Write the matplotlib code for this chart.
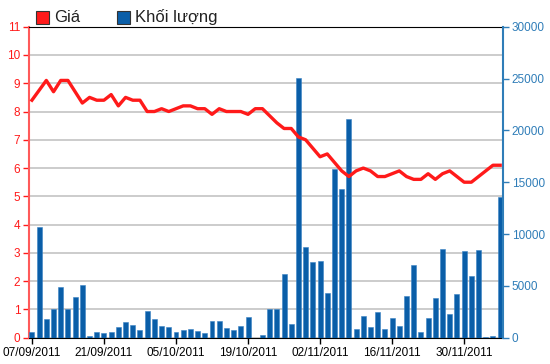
import matplotlib
matplotlib.use('Agg')
import matplotlib.pyplot as plt
from matplotlib.patches import Rectangle

plt.rcParams['font.family'] = ['Liberation Sans', 'DejaVu Sans']

# gia (nghin dong) va khoi luong theo tung phien
price = [8.4, 8.75, 9.1, 8.7, 9.1, 9.1, 8.7, 8.3, 8.5, 8.4,
         8.4, 8.6, 8.2, 8.5, 8.4, 8.4, 8.0, 8.0, 8.1, 8.0,
         8.1, 8.2, 8.2, 8.1, 8.1, 7.9, 8.1, 8.0, 8.0, 8.0,
         7.9, 8.1, 8.1, 7.85, 7.6, 7.4, 7.4, 7.1, 7.0, 6.7,
         6.4, 6.5, 6.2, 5.9, 5.7, 5.9, 6.0, 5.9, 5.7, 5.7,
         5.8, 5.9, 5.7, 5.6, 5.6, 5.8, 5.6, 5.8, 5.9, 5.7,
         5.5, 5.5, 5.7, 5.9, 6.1, 6.1]
volume = [550, 10640, 1770, 2730, 4850, 2780, 3900, 5100, 140, 550,
          410, 550, 1010, 1500, 1230, 760, 2540, 1830, 1150, 1010,
          550, 760, 870, 630, 410, 1640, 1640, 900, 760, 1150,
          1960, 0, 220, 2740, 2720, 6100, 1340, 25100, 8720, 7280,
          7380, 4300, 16230, 14330, 21070, 800, 2120, 1060, 2440, 800,
          1860, 1150, 4040, 7050, 545, 1890, 3820, 8600, 2245, 4170,
          8370, 5960, 8500, 100, 190, 13530]
tick_pos = [0, 10, 20, 30, 40, 50, 60]
tick_labels = ['07/09/2011', '21/09/2011', '05/10/2011', '19/10/2011',
               '02/11/2011', '16/11/2011', '30/11/2011']

red = '#ff1a1a'
blue = '#0a5ea8'
blue_axis = '#2f7db8'

x = list(range(len(price)))

fig = plt.figure(figsize=(5.5, 3.64), dpi=100)
ax = fig.add_axes([0.052, 0.0723, 0.863, 0.8543])
ax.set_xlim(-0.46, 65.43)
ax.set_ylim(0, 11)
ax.set_yticks(range(0, 12))
ax.grid(axis='y', color='#c8c8c8', linewidth=1.3)
ax.set_axisbelow(True)
ax.tick_params(axis='y', colors=red, labelsize=8.5, length=4, width=1, pad=2)
ax.tick_params(axis='x', colors='black', labelsize=8.5, length=4, width=1, pad=3)
ax.set_xticks(tick_pos)
ax.set_xticklabels(tick_labels)
ax.spines['left'].set_color('#ff5a5a')
ax.spines['left'].set_linewidth(1.5)
ax.spines['right'].set_visible(False)
ax.spines['top'].set_color('black')
ax.spines['bottom'].set_color('black')
ax.set_ylabel('Giá (nghìn đồng)', color=red, fontsize=9, labelpad=10)

axv = ax.twinx()
axv.bar(x, volume, width=0.69, color=blue, edgecolor='#3a82c4', linewidth=0.4)
axv.set_ylim(0, 30000)
axv.set_yticks(range(0, 30001, 5000))
axv.tick_params(axis='y', colors=blue_axis, labelsize=8.5, length=4, width=1, pad=2)
axv.spines['right'].set_color(blue_axis)
axv.spines['right'].set_linewidth(1.5)
axv.spines['left'].set_visible(False)
axv.spines['top'].set_visible(False)
axv.spines['bottom'].set_visible(False)

axl = ax.twinx()
axl.set_ylim(0, 11)
axl.plot(x, price, color=red, linewidth=2.4, solid_joinstyle='round')
axl.set_yticks([])
for s in axl.spines.values():
    s.set_visible(False)

# chu thich
fig.patches.append(Rectangle((36 / 550, 1 - 24 / 364), 13 / 550, 13 / 364,
                             transform=fig.transFigure, facecolor=red,
                             edgecolor='#333333', linewidth=0.8))
fig.text(54 / 550, 1 - 17 / 364, 'Giá', fontsize=12, color='#222222', va='center')
fig.patches.append(Rectangle((117 / 550, 1 - 24 / 364), 13 / 550, 13 / 364,
                             transform=fig.transFigure, facecolor=blue,
                             edgecolor='#333333', linewidth=0.8))
fig.text(135 / 550, 1 - 17 / 364, 'Khối lượng', fontsize=12, color='#222222', va='center')

fig.savefig('out.png', dpi=100)
